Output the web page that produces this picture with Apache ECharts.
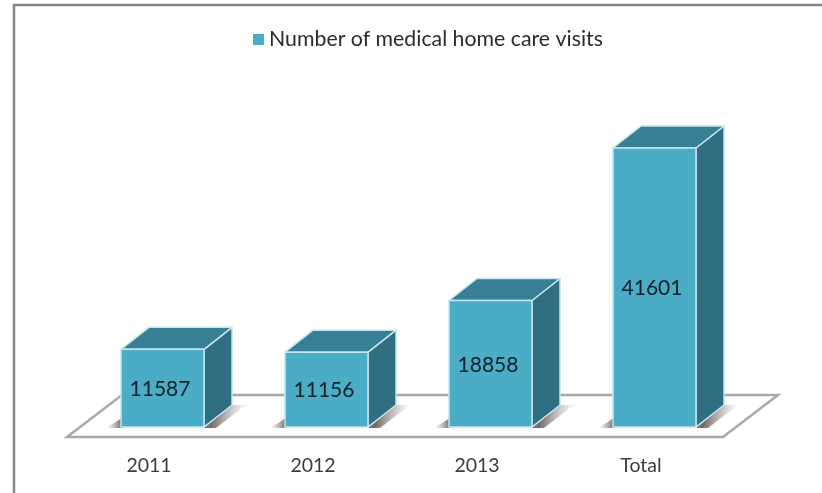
<!DOCTYPE html>
<html>
<head>
<meta charset="utf-8">
<style>
  html, body { margin: 0; padding: 0; background: #fff; }
  #chart { width: 822px; height: 493px; }
</style>
<script src="https://cdn.jsdelivr.net/npm/echarts@6/dist/echarts.min.js"></script>
</head>
<body>
<div id="chart"></div>
<script>
// Medical home care visits per year, with the overall total
const categories = ['2011', '2012', '2013', 'Total'];
const visits = [11587, 11156, 18858, 41601];
const seriesName = 'Number of medical home care visits';

// Box geometry in pixels: receding depth of the floor and of each box
const FLOOR_DX = 55, FLOOR_DY = 42;
const BOX_DX = 28, BOX_DY = 22;
const BOX_WIDTH = 83;
const FONT = 'Lato, "Open Sans", sans-serif';

const FRONT = '#4bacc6', TOP = '#377f95', SIDE = '#2f6f81', EDGE = '#c4e5ee';

const chart = echarts.init(document.getElementById('chart'), null, { renderer: 'canvas' });

function poly(points, style, z2) {
  return { type: 'polygon', shape: { points }, style, z2: z2 || 0, silent: true };
}

// The parallelogram the boxes stand on, spanning the whole category axis
function renderFloor(params, api) {
  const c = params.coordSys;
  const l = c.x, r = c.x + c.width, b = c.y + c.height;
  return poly(
    [[l, b], [r, b], [r + FLOOR_DX, b - FLOOR_DY], [l + FLOOR_DX, b - FLOOR_DY]],
    { fill: '#fff', stroke: '#aaa9a9', lineWidth: 2.5 }
  );
}

// One extruded box with its contact shadow and its value label
function renderBox(params, api) {
  const value = api.value(1);
  const base = api.coord([api.value(0), 0]);
  const top = api.coord([api.value(0), value]);
  // The box sits midway along the floor's depth
  const offX = (FLOOR_DX - BOX_DX) / 2, offY = (FLOOR_DY - BOX_DY) / 2;
  const x0 = base[0] + offX - BOX_WIDTH / 2, x1 = x0 + BOX_WIDTH;
  const yb = base[1] - offY, yt = top[1] - offY;
  const edge = { stroke: EDGE, lineWidth: 1.5, lineJoin: 'round' };
  const sideShadow = new echarts.graphic.LinearGradient(0, 0, 1, 0.3, [
    { offset: 0.25, color: 'rgba(105,90,90,0.9)' },
    { offset: 1, color: 'rgba(160,150,150,0)' }
  ]);
  const leftShadow = new echarts.graphic.LinearGradient(1, 0, 0, 0, [
    { offset: 0, color: 'rgba(100,92,85,0.9)' },
    { offset: 1, color: 'rgba(150,140,140,0)' }
  ]);
  return {
    type: 'group',
    children: [
      poly([[x1, yb + 1], [x1 + BOX_DX, yb - BOX_DY], [x1 + BOX_DX + 14, yb - BOX_DY],
            [x1 + 12, yb + 1]], { fill: sideShadow }),
      poly([[x0 + 1, yb - 9], [x0 + 1, yb + 1], [x0 - 15, yb + 1]], { fill: leftShadow }),
      poly([[x1, yt], [x1 + BOX_DX, yt - BOX_DY], [x1 + BOX_DX, yb - BOX_DY], [x1, yb]],
           Object.assign({ fill: SIDE }, edge), 1),
      poly([[x0, yt], [x0 + BOX_DX, yt - BOX_DY], [x1 + BOX_DX, yt - BOX_DY], [x1, yt]],
           Object.assign({ fill: TOP }, edge), 1),
      poly([[x0, yt], [x1, yt], [x1, yb], [x0, yb]],
           Object.assign({ fill: FRONT }, edge), 2),
      {
        type: 'text', z2: 3, silent: true,
        style: {
          x: (x0 + x1) / 2 - 2.5, y: (yt + yb) / 2 + 1,
          text: String(value), align: 'center', verticalAlign: 'middle',
          font: '21px ' + FONT, fill: '#10202a'
        }
      }
    ]
  };
}

chart.setOption({
  animation: false,
  backgroundColor: '#fff',
  legend: {
    data: [{ name: seriesName, icon: 'rect', itemStyle: { color: FRONT } }],
    left: 248, top: 24,
    itemWidth: 11, itemHeight: 11, itemGap: 10,
    textStyle: { fontFamily: FONT, fontSize: 21.3, color: '#2b2b2b' }
  },
  grid: { left: 67, top: 135.2, width: 656, height: 301.8 },
  xAxis: {
    type: 'category',
    data: categories,
    axisLine: { show: false },
    axisTick: { show: false },
    axisLabel: { margin: 19, fontFamily: FONT, fontSize: 19.5, color: '#3c3c3c' }
  },
  yAxis: {
    type: 'value', min: 0, max: 45000,
    axisLine: { show: false }, axisTick: { show: false },
    axisLabel: { show: false }, splitLine: { show: false }
  },
  graphic: [{
    type: 'polyline', silent: true, z: -1,
    shape: { points: [[14, 493], [14, 5], [822, 5]] },
    style: { fill: 'none', stroke: '#858585', lineWidth: 2.5 }
  }],
  series: [
    {
      name: 'floor', type: 'custom', coordinateSystem: 'cartesian2d', z: 1,
      renderItem: renderFloor, data: [[0, 0]], silent: true
    },
    {
      name: seriesName, type: 'custom', coordinateSystem: 'cartesian2d', z: 2,
      itemStyle: { color: FRONT },
      renderItem: renderBox,
      encode: { x: 0, y: 1 },
      data: visits.map((v, i) => [i, v])
    }
  ]
});
</script>
</body>
</html>
